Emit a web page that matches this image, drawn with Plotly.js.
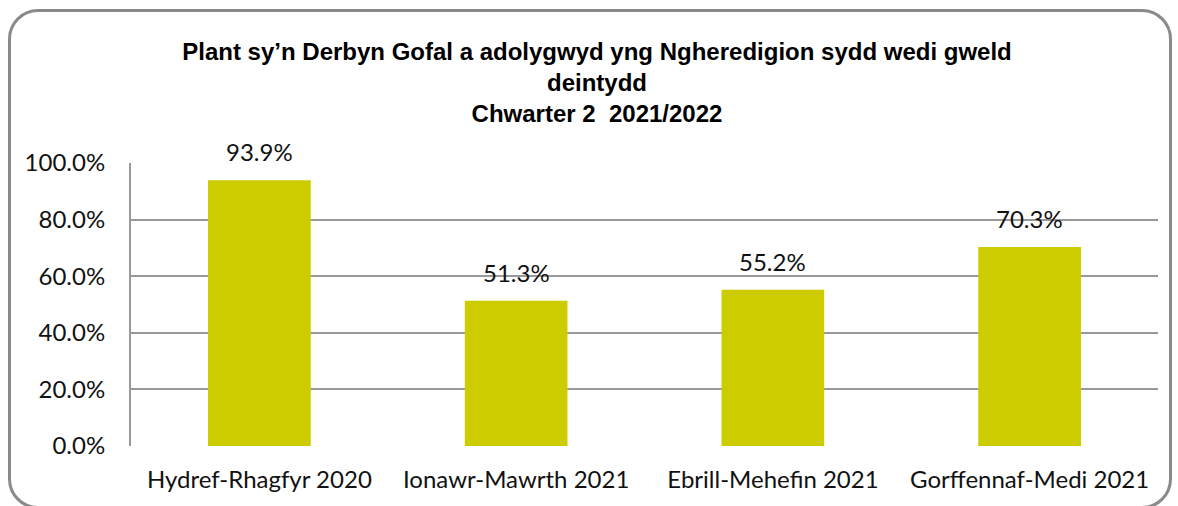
<!DOCTYPE html>
<html>
<head>
<meta charset="utf-8">
<script src="https://cdn.plot.ly/plotly-3.0.1.min.js"></script>
<style>
  html, body { margin: 0; padding: 0; background: #fff; }
  #wrap { position: relative; width: 1178px; height: 506px; overflow: hidden; }
  #chart { position: absolute; left: 0; top: 0; width: 1178px; height: 506px; }
  #frame { position: absolute; left: 8px; top: 9px; width: 1164px; height: 500px;
           border: 3px solid #8a8a8a; border-radius: 30px; pointer-events: none; box-sizing: border-box; }
</style>
</head>
<body>
<div id="wrap">
  <div id="chart"></div>
  <div id="frame"></div>
</div>
<script>
const categories = ["Hydref-Rhagfyr 2020", "Ionawr-Mawrth 2021", "Ebrill-Mehefin 2021", "Gorffennaf-Medi 2021"];
const values = [0.939, 0.513, 0.552, 0.703];
const valueLabels = ["93.9%", "51.3%", "55.2%", "70.3%"];
const titleLines = ["Plant sy’n Derbyn Gofal a adolygwyd yng Ngheredigion sydd wedi gweld", "deintydd", "Chwarter 2  2021/2022"];
const yTickVals = [0, 0.2, 0.4, 0.6, 0.8, 1.0];
const yTickText = ["0.0%", "20.0%", "40.0%", "60.0%", "80.0%", "100.0%"];

const tickFont = { family: "Lato, 'Open Sans', sans-serif", size: 24, color: "#111" };

const trace = {
  type: "bar",
  x: categories,
  y: values,
  marker: { color: "#cccc00" },
  hoverinfo: "skip"
};

const annotations = categories.map((c, i) => ({
  x: c, y: values[i], xref: "x", yref: "y",
  text: valueLabels[i], showarrow: false,
  yanchor: "bottom", yshift: 12,
  font: tickFont
}));

const layout = {
  width: 1178, height: 506,
  margin: { l: 131, r: 20, t: 163, b: 60 },
  paper_bgcolor: "rgba(0,0,0,0)",
  plot_bgcolor: "#fff",
  bargap: 0.6,
  showlegend: false,
  title: {
    text: "<b>" + titleLines.join("<br>") + "</b>",
    font: { family: "'Liberation Sans Narrow', 'Arial Narrow', 'Liberation Sans', sans-serif", size: 24, color: "#000" },
    x: 597 / 1178, xanchor: "center",
    y: 1 - 60 / 506, yanchor: "top", yref: "container"
  },
  xaxis: {
    type: "category",
    showgrid: false, zeroline: false, showline: false,
    ticks: "", tickfont: tickFont, ticklabelstandoff: 17
  },
  yaxis: {
    range: [0, 1], tickvals: yTickVals, ticktext: yTickText,
    showgrid: true, gridcolor: "#999", gridwidth: 2,
    zeroline: false, showline: true, linecolor: "#999", linewidth: 2,
    ticks: "", tickfont: tickFont, ticklabelstandoff: 19
  },
  annotations: annotations
};

Plotly.newPlot("chart", [trace], layout, { displayModeBar: false, staticPlot: true });
</script>
</body>
</html>
